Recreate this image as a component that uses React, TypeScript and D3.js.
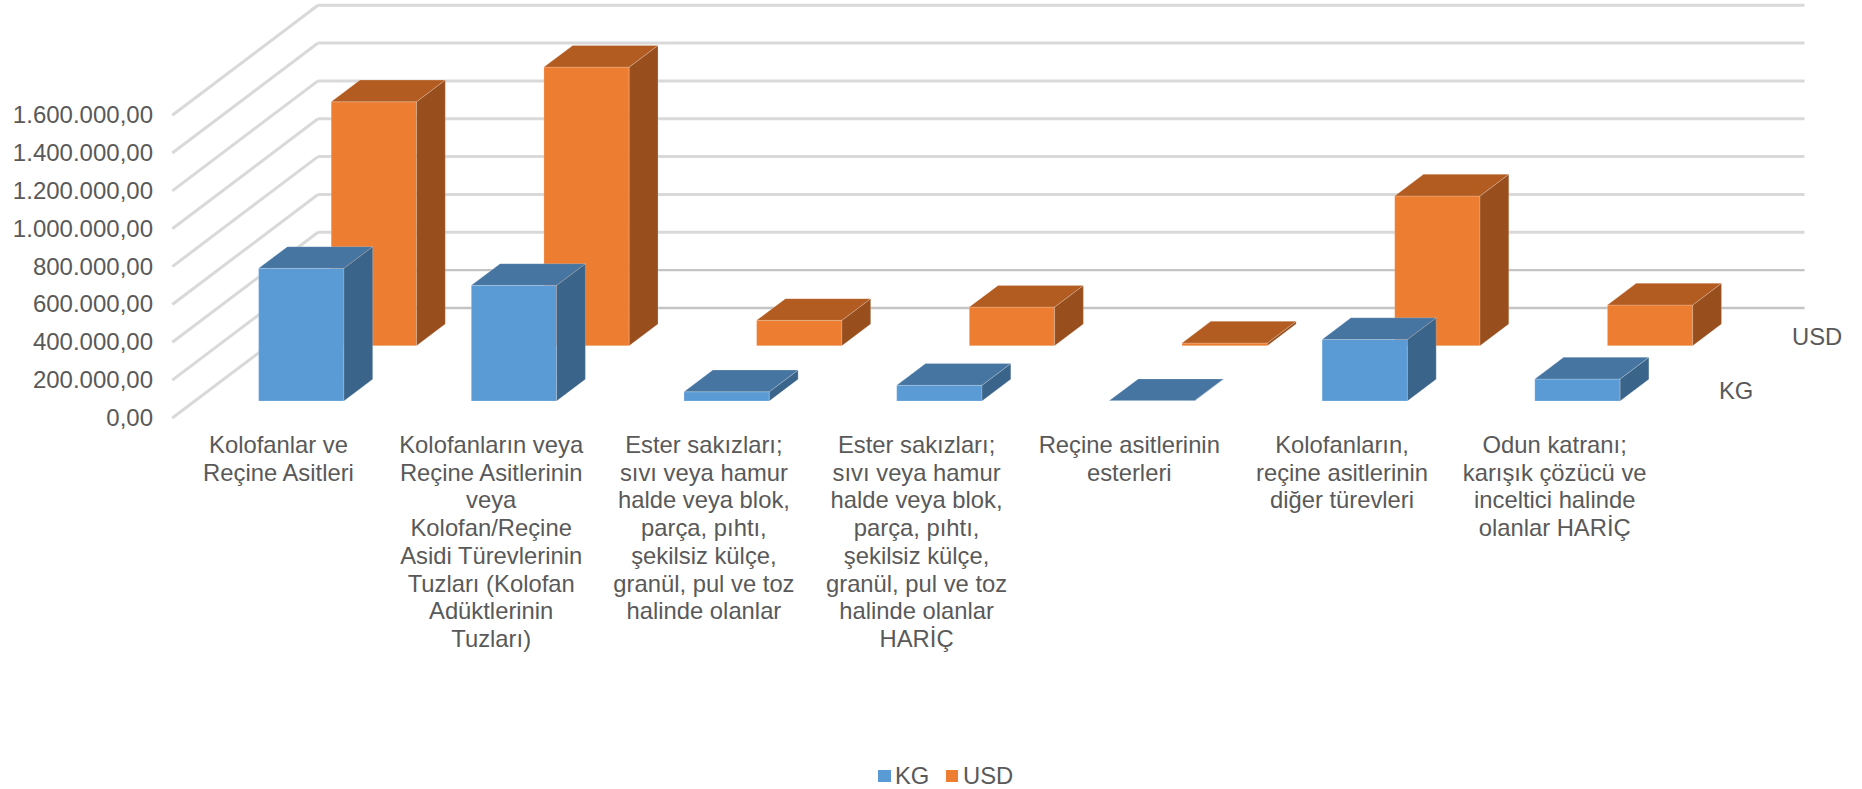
import React from "react";
import * as d3 from "d3";

const categoryLines: string[][] = [
  ["Kolofanlar ve", "Reçine Asitleri"],
  ["Kolofanların veya", "Reçine Asitlerinin", "veya", "Kolofan/Reçine", "Asidi Türevlerinin", "Tuzları (Kolofan", "Adüktlerinin", "Tuzları)"],
  ["Ester sakızları;", "sıvı veya hamur", "halde veya blok,", "parça, pıhtı,", "şekilsiz külçe,", "granül, pul ve toz", "halinde olanlar"],
  ["Ester sakızları;", "sıvı veya hamur", "halde veya blok,", "parça, pıhtı,", "şekilsiz külçe,", "granül, pul ve toz", "halinde olanlar", "HARİÇ"],
  ["Reçine asitlerinin", "esterleri"],
  ["Kolofanların,", "reçine asitlerinin", "diğer türevleri"],
  ["Odun katranı;", "karışık çözücü ve", "inceltici halinde", "olanlar HARİÇ"],
];
const kgValues = [701000, 611000, 49000, 83000, 2000, 325000, 116000];
const usdValues = [1289000, 1472000, 134000, 204000, 14000, 791000, 215000];
const axisTicks = [0, 200000, 400000, 600000, 800000, 1000000, 1200000, 1400000, 1600000];

const WIDTH = 1862;
const HEIGHT = 789;
const FONT = "'Liberation Sans', Arial, sans-serif";
const TEXT = "#595959";
const GRID = "#d9d9d9";
const GRID_LOW = "#c4c4c4";

// Oblique projection of the 3D column chart
const FRONT_X = 172.3;
const FRONT_BASE = 418;
const BACK_X = 318;
const BACK_BASE = 308;
const BACK_RIGHT = 1804.5;
const UNIT_HEIGHT = 302.8;
const BAR_W = 85.3;
const DEPTH_X = 28.8;
const DEPTH_Y = 21.7;
const KG_BASE = 401;
const USD_BASE = 345.7;
const USD_OFFSET = 72.6;

const indices = categoryLines.map((_, i) => i);
const band = d3.scaleBand<number>().domain(indices).range([258.6, 258.6 + 212.7 * 7]);
const height = d3.scaleLinear().domain([0, 1600000]).range([0, UNIT_HEIGHT]);
const trFormat = d3.formatLocale({ decimal: ",", thousands: ".", grouping: [3], currency: ["", ""] }).format(",.2f");
const pts = (p: number[][]) => p.map((q) => q.join(",")).join(" ");

type Palette = { front: string; top: string; side: string };
const kgColors: Palette = { front: "#5b9bd5", top: "#4675a1", side: "#3a6489" };
const usdColors: Palette = { front: "#ed7d31", top: "#b35c22", side: "#994f1d" };

function Bar({ x, base, value, c }: { x: number; base: number; value: number; c: Palette }) {
  const h = height(value);
  const top = base - h;
  const r = x + BAR_W;
  return (
    <g stroke="#ffffff" strokeOpacity={0.25} strokeWidth={0.8} strokeLinejoin="round">
      <polygon fill={c.front} points={pts([[x, base], [r, base], [r, top], [x, top]])} />
      <polygon fill={c.side} points={pts([[r, base], [r + DEPTH_X, base - DEPTH_Y], [r + DEPTH_X, top - DEPTH_Y], [r, top]])} />
      <polygon fill={c.top} points={pts([[x, top], [r, top], [r + DEPTH_X, top - DEPTH_Y], [x + DEPTH_X, top - DEPTH_Y]])} />
    </g>
  );
}

export default function App() {
  return (
    <svg
      width={WIDTH}
      height={HEIGHT}
      viewBox={`0 0 ${WIDTH} ${HEIGHT}`}
      style={{ position: "absolute", left: 0, top: 0, background: "#fff", fontFamily: FONT }}
    >
      {axisTicks.map((t) => {
        const h = height(t);
        const low = t <= 200000;
        return (
          <g key={t}>
            <line x1={FRONT_X} y1={FRONT_BASE - h} x2={BACK_X} y2={BACK_BASE - h} stroke={GRID} strokeWidth={3} />
            <line
              x1={BACK_X}
              y1={BACK_BASE - h}
              x2={BACK_RIGHT}
              y2={BACK_BASE - h}
              stroke={low ? GRID_LOW : GRID}
              strokeWidth={low ? 2.4 : 3}
            />
            <text x={153} y={FRONT_BASE - h + 8} textAnchor="end" fontSize={24} fill={TEXT}>
              {trFormat(t)}
            </text>
          </g>
        );
      })}

      {indices.map((i) => (
        <Bar key={i} x={band(i)! + USD_OFFSET} base={USD_BASE} value={usdValues[i]} c={usdColors} />
      ))}
      {indices.map((i) => (
        <Bar key={i} x={band(i)!} base={KG_BASE} value={kgValues[i]} c={kgColors} />
      ))}

      {categoryLines.map((lines, i) => (
        <text key={i} textAnchor="middle" fontSize={23.8} fill={TEXT}>
          {lines.map((line, j) => (
            <tspan key={j} x={band(i)! + 19.9} y={453 + j * 27.7}>
              {line}
            </tspan>
          ))}
        </text>
      ))}

      <text x={1792} y={345} fontSize={23.8} fill={TEXT}>USD</text>
      <text x={1719} y={399} fontSize={23.8} fill={TEXT}>KG</text>

      <rect x={878} y={770} width={13} height={12} fill={kgColors.front} />
      <text x={895} y={784} fontSize={23.8} fill={TEXT}>KG</text>
      <rect x={946} y={770} width={12} height={12} fill={usdColors.front} />
      <text x={963} y={784} fontSize={23.8} fill={TEXT}>USD</text>
    </svg>
  );
}
